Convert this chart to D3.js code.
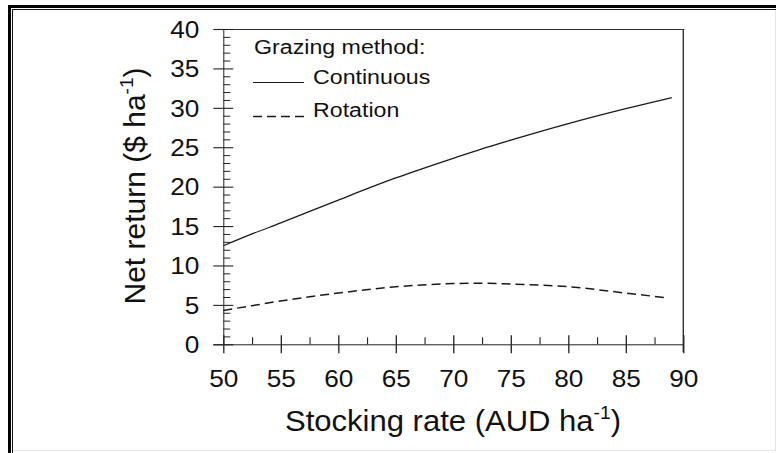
<!DOCTYPE html>
<html>
<head>
<meta charset="utf-8">
<script src="https://cdn.jsdelivr.net/npm/d3@7"></script>
<style>
html,body{margin:0;padding:0;background:#fff;}
svg{display:block;font-family:"Liberation Sans",Arial,sans-serif;}
</style>
</head>
<body>
<svg id="chart" width="776" height="453"></svg>
<script>
// ---- data ----
const stockingRate = [50, 52.5, 55, 60, 65, 70, 72.5, 75, 80, 85, 89];
const continuous   = [12.5, 14.0, 15.4, 18.3, 21.1, 23.6, 24.8, 25.9, 28.0, 29.9, 31.3];
const rotationX    = [50, 52.5, 55, 60, 65, 70, 72.5, 75, 80, 85, 88.5];
const rotation     = [4.3, 4.9, 5.5, 6.5, 7.3, 7.7, 7.75, 7.65, 7.3, 6.5, 5.9];
const xTicks = [50, 55, 60, 65, 70, 75, 80, 85, 90];
const xMinor = [52.5, 57.5, 62.5, 67.5, 72.5, 77.5, 82.5, 87.5];
const yTicks = [0, 5, 10, 15, 20, 25, 30, 35, 40];
const yMinor = d3.range(0, 41, 1).filter(v => v % 5 !== 0);
const legendTitle = "Grazing method:";
const seriesNames = ["Continuous", "Rotation"];

const svg = d3.select("#chart");
const ink = "#222";

// outer frame
svg.append("line").attr("x1",8).attr("x2",776).attr("y1",6.5).attr("y2",6.5).attr("stroke","#000").attr("stroke-width",3);
svg.append("line").attr("x1",12).attr("x2",776).attr("y1",9.5).attr("y2",9.5).attr("stroke","#111").attr("stroke-width",1);
svg.append("line").attr("x1",9.5).attr("x2",9.5).attr("y1",5).attr("y2",453).attr("stroke","#000").attr("stroke-width",3);
svg.append("line").attr("x1",12.5).attr("x2",12.5).attr("y1",9).attr("y2",453).attr("stroke","#111").attr("stroke-width",1);
svg.append("line").attr("x1",13).attr("x2",776).attr("y1",450.5).attr("y2",450.5).attr("stroke","#e4e4e4").attr("stroke-width",1);
svg.append("line").attr("x1",775.5).attr("x2",775.5).attr("y1",10).attr("y2",451).attr("stroke","#e4e4e4").attr("stroke-width",1);

// scales
const x = d3.scaleLinear().domain([50, 90]).range([223.3, 683.3]);
const y = d3.scaleLinear().domain([0, 40]).range([344.3, 29]);

const sx = 1.14; // horizontal glyph stretch

// plot frame top & right
svg.append("line").attr("x1",x(50)).attr("x2",x(90)+1).attr("y1",y(40)+0.5).attr("y2",y(40)+0.5).attr("stroke","#333").attr("stroke-width",1);
svg.append("line").attr("x1",x(90)).attr("x2",x(90)).attr("y1",y(40)).attr("y2",y(0)+8).attr("stroke","#333").attr("stroke-width",1.4);

// x axis (outer ticks + labels)
const gx = svg.append("g").attr("transform",`translate(0,${y(0)})`)
  .call(d3.axisBottom(x).tickValues(xTicks).tickSize(9).tickPadding(17).tickFormat(d3.format("d")));
gx.select(".domain").attr("stroke",ink).attr("d",`M${x(50)-10},0.5H${x(90)}`);
gx.selectAll(".tick line").attr("stroke",ink).attr("stroke-width",1.3);
gx.selectAll("text").attr("fill","#111").style("font-size","23px").attr("transform",`scale(${sx},1)`);
// inner major ticks
const gx2 = svg.append("g").attr("transform",`translate(0,${y(0)})`)
  .call(d3.axisTop(x).tickValues(xTicks).tickSize(9).tickFormat(""));
gx2.select(".domain").remove();
gx2.selectAll(".tick line").attr("stroke",ink).attr("stroke-width",1.3);
// inner minor ticks
const gx3 = svg.append("g").attr("transform",`translate(0,${y(0)})`)
  .call(d3.axisTop(x).tickValues(xMinor).tickSize(7).tickFormat(""));
gx3.select(".domain").remove();
gx3.selectAll(".tick line").attr("stroke",ink).attr("stroke-width",1.1);

// y axis
const gy = svg.append("g").attr("transform",`translate(${x(50)},0)`)
  .call(d3.axisLeft(y).tickValues(yTicks).tickSize(10).tickPadding(13).tickFormat(d3.format("d")));
gy.select(".domain").attr("stroke",ink).attr("d",`M0.5,${y(0)}V${y(40)}`);
gy.selectAll(".tick line").attr("stroke",ink).attr("stroke-width",1.1);
gy.selectAll("text").attr("fill","#111").style("font-size","23px")
  .attr("x",-24/sx).attr("dy","0.36em").attr("transform",`scale(${sx},1)`);
const gy2 = svg.append("g").attr("transform",`translate(${x(50)},0)`)
  .call(d3.axisRight(y).tickValues(yTicks).tickSize(10).tickFormat(""));
gy2.select(".domain").remove();
gy2.selectAll(".tick line").attr("stroke",ink).attr("stroke-width",1.1);
const gy3 = svg.append("g").attr("transform",`translate(${x(50)},0)`)
  .call(d3.axisRight(y).tickValues(yMinor).tickSize(7).tickFormat(""));
gy3.select(".domain").remove();
gy3.selectAll(".tick line").attr("stroke",ink).attr("stroke-width",1);

// axis titles
const xt = svg.append("text").attr("transform",`translate(453,431) scale(1.07,1)`)
  .attr("text-anchor","middle").attr("fill","#111").style("font-size","29px");
xt.append("tspan").text("Stocking rate (AUD ha");
xt.append("tspan").text("-1").attr("dy",-12).style("font-size","18px");
xt.append("tspan").text(")").attr("dy",12);

const yt = svg.append("text").attr("transform",`translate(145,186) rotate(-90)`)
  .attr("text-anchor","middle").attr("fill","#111").style("font-size","30px");
yt.append("tspan").text("Net return ($ ha");
yt.append("tspan").text("-1").attr("dy",-12).style("font-size","19px");
yt.append("tspan").text(")").attr("dy",12);

// lines
const line = d3.line().curve(d3.curveMonotoneX);
svg.append("path")
  .attr("d", line(stockingRate.map((v,i)=>[x(v), y(continuous[i])])))
  .attr("fill","none").attr("stroke","#1a1a1a").attr("stroke-width",1.3);
svg.append("path")
  .attr("d", line(rotationX.map((v,i)=>[x(v), y(rotation[i])])))
  .attr("fill","none").attr("stroke","#1a1a1a").attr("stroke-width",1.5).attr("stroke-dasharray","9,5");

// legend
svg.append("text").attr("transform",`translate(254,54) scale(1.16,1)`).attr("fill","#111").style("font-size","20px").text(legendTitle);
svg.append("line").attr("x1",253).attr("x2",304).attr("y1",82.5).attr("y2",82.5).attr("stroke","#1a1a1a").attr("stroke-width",1.2);
svg.append("text").attr("transform",`translate(313,84) scale(1.16,1)`).attr("fill","#111").style("font-size","20px").text(seriesNames[0]);
svg.append("line").attr("x1",253).attr("x2",304).attr("y1",116.5).attr("y2",116.5).attr("stroke","#1a1a1a").attr("stroke-width",1.4).attr("stroke-dasharray","9,5");
svg.append("text").attr("transform",`translate(313,116.5) scale(1.16,1)`).attr("fill","#111").style("font-size","20px").text(seriesNames[1]);
</script>
</body>
</html>
